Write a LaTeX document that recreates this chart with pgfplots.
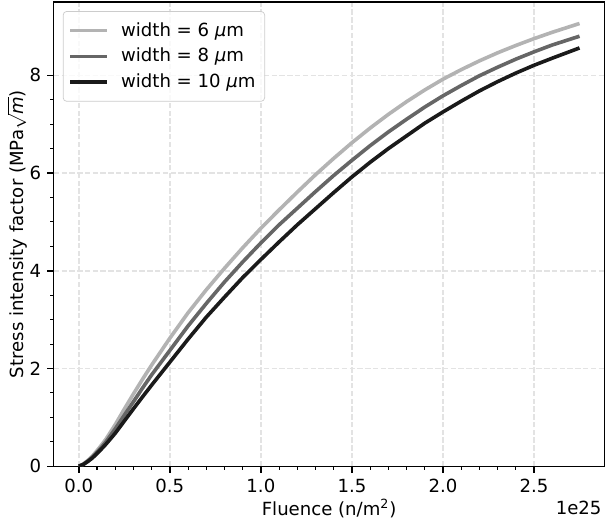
\documentclass[border=0pt]{standalone}
\usepackage{fontspec}
\setmainfont{DejaVu Sans}
\usepackage{pgfplots}
\pgfplotsset{compat=1.18}
\definecolor{cA}{HTML}{B3B3B3}
\definecolor{cB}{HTML}{666666}
\definecolor{cC}{HTML}{1A1A1A}
\definecolor{gridc}{HTML}{E3E3E3}
\begin{document}
\begin{tikzpicture}
\begin{axis}[
  name=ax,
  scale only axis, width=304.3pt, height=256.5pt,
  xmin=-0.1375, xmax=2.8875, ymin=0, ymax=9.5,
  xtick={0,0.5,1,1.5,2,2.5}, ytick={0,2,4,6,8},
  minor x tick num=4, minor y tick num=3,
  tick align=outside, tick pos=left,
  major tick length=3.5pt, minor tick length=2pt,
  every tick/.style={black, line width=0.8pt},
  every minor tick/.style={black, line width=0.6pt},
  axis line style={line width=0.8pt},
  /pgf/number format/assume math mode=true,
  xticklabel={\pgfmathprintnumber[fixed,fixed zerofill,precision=1]{\tick}},
  yticklabel={\pgfmathprintnumber[fixed,precision=0]{\tick}},
  grid=major, major grid style={gridc, line width=0.8pt, dash pattern=on 3pt off 1.3pt},
  xlabel={Fluence (n/m\textsuperscript{2})},
  ylabel={Stress intensity factor (MPa$\sqrt{\textit{m}}$)},
  x label style={at={(axis description cs:0.5,0)}, anchor=base, yshift=-27pt, inner sep=0pt},
  y label style={at={(axis description cs:-0.0665,0.5)}, anchor=center, inner sep=0pt},
  legend cell align=left,
  legend style={at={(0,1)}, anchor=north west, xshift=5pt, yshift=-5pt,
    draw=black!20, rounded corners=2pt, fill=white, fill opacity=0.8, text opacity=1,
    row sep=1.2pt, inner xsep=3pt, inner ysep=4pt,
    /tikz/every odd column/.append style={column sep=5pt}},
  legend image code/.code={\draw[#1] (0pt,0pt) -- (20pt,0pt);},
]
\addplot[cA, line width=2pt] coordinates {
(0,0) (0.025,0.046) (0.05,0.12) (0.075,0.21) (0.1,0.32) (0.125,0.435) (0.15,0.56) (0.2,0.85)
(0.25,1.17) (0.3,1.48) (0.35,1.78) (0.4,2.07)
(0.5,2.62) (0.6,3.14) (0.7,3.61) (0.8,4.05) (0.9,4.47) (1.0,4.87) (1.1,5.245) (1.2,5.61) (1.3,5.965)
(1.4,6.30) (1.5,6.62) (1.6,6.92) (1.7,7.20) (1.8,7.46) (1.9,7.70) (2.0,7.92) (2.1,8.115) (2.2,8.295)
(2.3,8.46) (2.4,8.61) (2.5,8.75) (2.6,8.88) (2.7,9.00) (2.75,9.06)};
\addlegendentry{width = 6 \textit{μ}m}
\addplot[cB, line width=2pt] coordinates {
(0,0) (0.025,0.041) (0.05,0.109) (0.075,0.19) (0.1,0.286) (0.125,0.39) (0.15,0.504) (0.2,0.765)
(0.25,1.045) (0.3,1.32) (0.35,1.60) (0.4,1.87)
(0.5,2.37) (0.6,2.87) (0.7,3.33) (0.8,3.77) (0.9,4.18) (1.0,4.57) (1.1,4.94) (1.2,5.28) (1.3,5.62)
(1.4,5.95) (1.5,6.26) (1.6,6.56) (1.7,6.84) (1.8,7.10) (1.9,7.35) (2.0,7.58) (2.1,7.79) (2.2,7.99)
(2.3,8.165) (2.4,8.33) (2.5,8.48) (2.6,8.62) (2.7,8.74) (2.75,8.80)};
\addlegendentry{width = 8 \textit{μ}m}
\addplot[cC, line width=2pt] coordinates {
(0,0) (0.025,0.037) (0.05,0.098) (0.075,0.17) (0.1,0.26) (0.125,0.355) (0.15,0.455) (0.2,0.675)
(0.25,0.925) (0.3,1.175) (0.35,1.42) (0.4,1.66)
(0.5,2.13) (0.6,2.60) (0.7,3.05) (0.8,3.46) (0.9,3.86) (1.0,4.23) (1.1,4.59) (1.2,4.94) (1.3,5.27)
(1.4,5.60) (1.5,5.92) (1.6,6.22) (1.7,6.50) (1.8,6.76) (1.9,7.02) (2.0,7.25) (2.1,7.47) (2.2,7.68)
(2.3,7.87) (2.4,8.045) (2.5,8.205) (2.6,8.35) (2.7,8.49) (2.75,8.56)};
\addlegendentry{width = 10 \textit{μ}m}
\end{axis}
\node[anchor=base east, inner sep=0pt] at ([xshift=-1.5pt, yshift=-26.5pt]ax.south east) {1e25};
\pgfresetboundingbox
\path[use as bounding box] (-29.7pt,-30.8pt) rectangle (304.55pt,257.6pt);
\end{tikzpicture}
\end{document}
